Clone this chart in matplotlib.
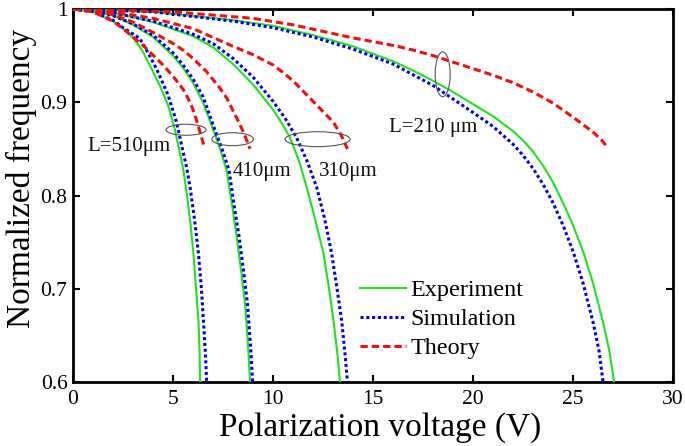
import numpy as np
import matplotlib.pyplot as plt
from matplotlib.patches import Ellipse

plt.rcParams['font.family'] = ['Liberation Serif', 'DejaVu Serif']

# Experiment (green solid)
exp510_v = [0, 1, 2, 2.5, 3.0, 3.45, 3.83, 4.33, 4.75, 5.08, 5.33, 5.52, 5.7, 5.87, 6.02, 6.15,
            6.27, 6.33, 6.35]
exp510_f = [1, 0.997, 0.987, 0.979, 0.969, 0.956, 0.94, 0.9185, 0.897, 0.872, 0.847, 0.827,
            0.80, 0.77, 0.738, 0.70, 0.666, 0.63, 0.6]
exp410_v = [0, 1, 2, 3, 4, 5, 5.5, 6, 6.5, 7.02, 7.35, 7.68, 7.95, 8.18, 8.4, 8.6, 8.75, 8.85]
exp410_f = [1, 0.998, 0.993, 0.983, 0.97, 0.95, 0.937, 0.921, 0.9, 0.87, 0.85, 0.827, 0.79,
            0.756, 0.72, 0.684, 0.64, 0.6]
exp310_v = [0, 2, 4, 6, 7, 8, 9, 10, 10.45, 10.85, 11.3, 11.68, 12.1, 12.52, 12.8, 13.02,
            13.22, 13.35]
exp310_f = [1, 0.996, 0.986, 0.971, 0.959, 0.941, 0.919, 0.892, 0.877, 0.862, 0.837, 0.809,
            0.775, 0.738, 0.70, 0.666, 0.63, 0.6]
exp210_v = [0, 4, 8, 10, 12, 14, 15, 16, 17, 18, 19, 20, 21, 22, 22.5, 23, 23.5, 24, 24.5,
            25, 25.5, 26, 26.5, 26.8, 27.05]
exp210_f = [1, 0.997, 0.988, 0.982, 0.972, 0.96, 0.952, 0.944, 0.934, 0.923, 0.911, 0.898,
            0.885, 0.869, 0.859, 0.847, 0.832, 0.814, 0.792, 0.768, 0.740, 0.706, 0.664,
            0.635, 0.6]

# Simulation (blue dotted)
sim510_v = [0, 1, 2, 2.5, 3.33, 3.75, 4.17, 4.75, 5.17, 5.5, 5.68, 5.85, 6.07, 6.27, 6.42,
            6.52, 6.62, 6.68]
sim510_f = [1, 0.997, 0.988, 0.98, 0.9686, 0.953, 0.936, 0.908, 0.879, 0.847, 0.83, 0.809,
            0.775, 0.738, 0.70, 0.666, 0.63, 0.6]
sim410_v = [0, 1, 2, 3, 4, 5, 5.5, 6, 6.5, 7.1, 7.45, 7.8, 8.05, 8.3, 8.52, 8.72, 8.87, 8.98]
sim410_f = [1, 0.998, 0.993, 0.984, 0.972, 0.953, 0.94, 0.925, 0.906, 0.87, 0.85, 0.827,
            0.79, 0.756, 0.72, 0.684, 0.64, 0.6]
sim310_v = [0, 2, 4, 6, 7, 8, 9, 10, 10.6, 11.18, 11.7, 12.18, 12.58, 12.93, 13.2, 13.43,
            13.6, 13.72]
sim310_f = [1, 0.996, 0.987, 0.973, 0.963, 0.947, 0.927, 0.901, 0.883, 0.862, 0.837, 0.809,
            0.775, 0.738, 0.70, 0.666, 0.63, 0.6]
sim210_v = [0, 4, 8, 10, 12, 14, 16, 18, 20, 21, 22, 22.5, 23, 23.5, 24, 24.5, 25, 25.5, 26,
            26.3, 26.5]
sim210_f = [1, 0.997, 0.987, 0.98, 0.97, 0.957, 0.941, 0.918, 0.889, 0.874, 0.855, 0.843,
            0.829, 0.812, 0.792, 0.768, 0.740, 0.706, 0.664, 0.633, 0.6]

# Theory (red dashed)
th510_v = [0, 1, 2, 2.67, 3.0, 3.5, 4.17, 4.5, 5, 5.5, 5.85, 6.0, 6.2, 6.35, 6.55]
th510_f = [1, 0.997, 0.987, 0.976, 0.97, 0.961, 0.947, 0.94, 0.928, 0.914, 0.9, 0.892,
           0.879, 0.868, 0.853]
th410_v = [0, 1, 2, 3, 4, 5, 5.5, 6, 6.67, 7.35, 7.7, 8.02, 8.3, 8.52, 8.85]
th410_f = [1, 0.999, 0.994, 0.986, 0.975, 0.963, 0.956, 0.947, 0.933, 0.915, 0.904, 0.89,
           0.878, 0.868, 0.85]
th310_v = [0, 2, 4, 6, 8, 9, 10, 10.5, 11, 11.5, 12, 12.5, 13, 13.4, 13.72]
th310_f = [1, 0.997, 0.99, 0.979, 0.96, 0.951, 0.94, 0.932, 0.923, 0.912, 0.901, 0.89,
           0.879, 0.865, 0.85]
th210_v = [0, 5, 9, 11, 12.5, 14, 16, 17, 18, 19, 20, 21, 22, 23, 24, 25, 25.5, 26, 26.4,
           26.75]
th210_f = [1, 0.997, 0.99, 0.983, 0.976, 0.969, 0.961, 0.956, 0.95, 0.943, 0.936, 0.929,
           0.921, 0.911, 0.899, 0.884, 0.876, 0.868, 0.86, 0.851]

# ellipse annotations: (center V, center f, width V, height f)
ellipses = [(5.65, 0.8705, 2.0, 0.0118), (7.98, 0.8604, 2.08, 0.0139),
            (12.23, 0.8604, 3.25, 0.016), (18.48, 0.930, 0.75, 0.048)]
labels = [(2.81, 0.8477, 'L=510μm'), (9.42, 0.821, '410μm'),
          (13.77, 0.821, '310μm'), (17.98, 0.8686, 'L=210 μm')]

xticks = [0, 5, 10, 15, 20, 25, 30]
yticks = [0.6, 0.7, 0.8, 0.9, 1.0]
ytick_labels = ['0.6', '0.7', '0.8', '0.9', '1']

fig = plt.figure(figsize=(6.85, 4.46), dpi=100)
ax = fig.add_axes([0.1066, 0.1435, 0.876, 0.8363])

green = '#22e022'
blue = '#0000ee'
red = '#ee1111'

for i, (v, f) in enumerate([(exp510_v, exp510_f), (exp410_v, exp410_f),
                            (exp310_v, exp310_f), (exp210_v, exp210_f)]):
    ax.plot(v, f, color=green, lw=1.5, label='Experiment' if i == 0 else None, zorder=3)
for i, (v, f) in enumerate([(sim510_v, sim510_f), (sim410_v, sim410_f),
                            (sim310_v, sim310_f), (sim210_v, sim210_f)]):
    ax.plot(v, f, color=blue, lw=2.2, dashes=(1, 0.9),
            label='Simulation' if i == 0 else None, zorder=4)
for i, (v, f) in enumerate([(th510_v, th510_f), (th410_v, th410_f),
                            (th310_v, th310_f), (th210_v, th210_f)]):
    ax.plot(v, f, color=red, lw=2.2, dashes=(2.4, 1.3),
            label='Theory' if i == 0 else None, zorder=5)

for cx, cy, w, h in ellipses:
    ax.add_patch(Ellipse((cx, cy), w, h, fill=False, ec='#555555', lw=0.8, zorder=6))
for x, y, s in labels:
    ax.text(x, y, s, fontsize=15, ha='center', va='baseline', color='#111111')

ax.set_xlim(0, 30)
ax.set_ylim(0.6, 1.0)
ax.set_xticks(xticks)
ax.set_yticks(yticks)
ax.set_yticklabels(ytick_labels)
ax.tick_params(direction='in', length=5, width=1.5, top=True, right=True,
               labelsize=15.5, colors='black')
ax.tick_params(axis='x', pad=6)
ax.tick_params(axis='y', pad=4)
for s in ax.spines.values():
    s.set_linewidth(2)

ax.set_xlabel('Polarization voltage (V)', fontsize=24)
ax.set_ylabel('Normalized frequency', fontsize=24)
ax.xaxis.set_label_coords(0.512, -0.08)
ax.yaxis.set_label_coords(-0.06, 0.547)

ax.legend(loc='upper left', bbox_to_anchor=(0.478, 0.276), frameon=False,
          fontsize=17.4, handlelength=1.9, handletextpad=0.2, labelspacing=0.3,
          borderpad=0, borderaxespad=0)

fig.savefig('out.png', dpi=100)
